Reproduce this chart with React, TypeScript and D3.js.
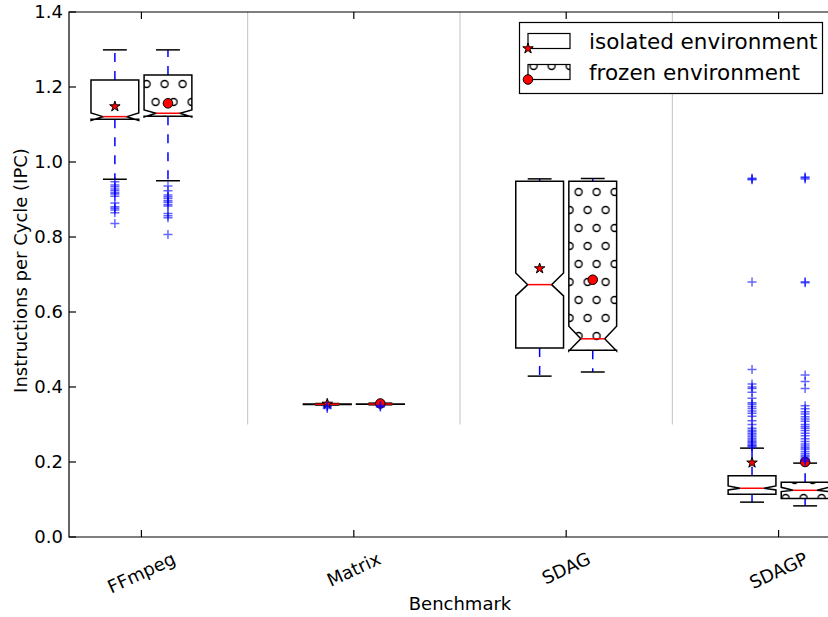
import { useEffect, useRef } from "react"
import * as d3 from "d3"

const benchmarks = ["FFmpeg", "Matrix", "SDAG", "SDAGP"]
const environments = ["isolated environment", "frozen environment"]
const yTicks = [0.0, 0.2, 0.4, 0.6, 0.8, 1.0, 1.2, 1.4]

// isolated environment, one value per benchmark
const isoWhiskerLo = [0.954, 0.352, 0.429, 0.093]
const isoQ1 = [1.114, 0.3535, 0.504, 0.114]
const isoNotchLo = [1.111, 0.3537, 0.643, 0.1255]
const isoMedian = [1.121, 0.354, 0.673, 0.13]
const isoNotchHi = [1.131, 0.3543, 0.704, 0.136]
const isoQ3 = [1.219, 0.3545, 0.949, 0.1635]
const isoWhiskerHi = [1.299, 0.356, 0.955, 0.237]
const isoMean = [1.148, 0.355, 0.716, 0.198]
const isoFliers = [
    [0.9475, 0.9387, 0.934, 0.928, 0.9235, 0.918, 0.915, 0.909, 0.891, 0.881, 0.8765, 0.872, 0.865, 0.836],
    [0.343, 0.347, 0.349],
    [],
    [0.953, 0.955, 0.957, 0.68, 0.447, 0.408, 0.4, 0.396, 0.386, 0.37, 0.358, 0.354, 0.348, 0.343, 0.336,
        0.33, 0.322, 0.31, 0.3, 0.29, 0.285, 0.281, 0.276, 0.272, 0.2675, 0.263, 0.259, 0.255, 0.252,
        0.248, 0.245, 0.243, 0.24],
]

// frozen environment
const frzWhiskerLo = [0.95, 0.3525, 0.44, 0.083]
const frzQ1 = [1.122, 0.354, 0.498, 0.103]
const frzNotchLo = [1.12, 0.3542, 0.496, 0.121]
const frzMedian = [1.13, 0.3545, 0.5285, 0.1245]
const frzNotchHi = [1.139, 0.3548, 0.562, 0.1325]
const frzQ3 = [1.232, 0.355, 0.949, 0.1458]
const frzWhiskerHi = [1.299, 0.357, 0.956, 0.197]
const frzMean = [1.1565, 0.356, 0.686, 0.2]
const frzFliers = [
    [0.936, 0.9235, 0.912, 0.9075, 0.903, 0.897, 0.8925, 0.887, 0.883, 0.863, 0.857, 0.8515, 0.807],
    [0.347, 0.349, 0.351],
    [],
    [0.955, 0.958, 0.96, 0.678, 0.681, 0.432, 0.415, 0.396, 0.35, 0.342, 0.334, 0.328, 0.321, 0.315,
        0.309, 0.3, 0.295, 0.29, 0.284, 0.277, 0.27, 0.262, 0.255, 0.248, 0.243, 0.238, 0.234, 0.228,
        0.223, 0.218, 0.214, 0.21, 0.206, 0.202],
]

const W = 828
const H = 617
const FONT = "DejaVu Sans, sans-serif"

export default function App() {
    const svgRef = useRef<SVGSVGElement>(null)

    useEffect(() => {
        if (!svgRef.current) return
        const svg = d3.select(svgRef.current)
        svg.selectAll("*").remove()

        const x = d3.scaleLinear().domain([-0.341, 3.341]).range([69, 851])
        const y = d3.scaleLinear().domain([0, 1.4]).range([537, 12])
        const unit = x(1) - x(0)
        const offset = unit / 8
        const boxW = unit * 0.225

        // 'o' hatch
        const defs = svg.append("defs")
        const pat = defs.append("pattern")
            .attr("id", "hatchO")
            .attr("patternUnits", "userSpaceOnUse")
            .attr("x", 578.6).attr("y", 192)
            .attr("width", 18).attr("height", 36)
        const hc: [number, number][] = [[0, 0], [18, 0], [0, 36], [18, 36], [9, 18]]
        pat.selectAll("circle").data(hc).enter().append("circle")
            .attr("cx", d => d[0]).attr("cy", d => d[1]).attr("r", 3.5)
            .attr("fill", "none").attr("stroke", "#000").attr("stroke-width", 1.4)

        // separators
        svg.append("g").selectAll("line").data([0.5, 1.5, 2.5]).enter().append("line")
            .attr("x1", d => x(d)).attr("x2", d => x(d))
            .attr("y1", y(1.4)).attr("y2", y(0.3))
            .attr("stroke", "#cccccc").attr("stroke-width", 1.2)

        const series = [
            { key: "iso", dx: -offset, wlo: isoWhiskerLo, q1: isoQ1, nlo: isoNotchLo, med: isoMedian, nhi: isoNotchHi, q3: isoQ3, whi: isoWhiskerHi, mean: isoMean, fliers: isoFliers },
            { key: "frz", dx: offset, wlo: frzWhiskerLo, q1: frzQ1, nlo: frzNotchLo, med: frzMedian, nhi: frzNotchHi, q3: frzQ3, whi: frzWhiskerHi, mean: frzMean, fliers: frzFliers },
        ]

        const star = d3.symbol().type(d3.symbolStar).size(34)
        const plot = svg.append("g")
        const meanLayer = svg.append("g")
        const flierLayer = svg.append("g")

        series.forEach(s => {
            benchmarks.forEach((b, i) => {
                const cx = x(i) + s.dx
                const l = cx - boxW / 2, r = cx + boxW / 2
                const il = cx - boxW / 4, ir = cx + boxW / 4
                const line = d3.line()
                const pts: [number, number][] = [
                    [l, y(s.q1[i])], [r, y(s.q1[i])], [r, y(s.nlo[i])], [ir, y(s.med[i])], [r, y(s.nhi[i])],
                    [r, y(s.q3[i])], [l, y(s.q3[i])], [l, y(s.nhi[i])], [il, y(s.med[i])], [l, y(s.nlo[i])],
                ]
                const d = line(pts) + "Z"
                // whiskers
                plot.append("line")
                    .attr("x1", cx).attr("x2", cx).attr("y1", y(s.q1[i])).attr("y2", y(s.wlo[i]))
                    .attr("stroke", "#0000ff").attr("stroke-width", 1.5).attr("stroke-dasharray", "9,9")
                plot.append("line")
                    .attr("x1", cx).attr("x2", cx).attr("y1", y(s.q3[i])).attr("y2", y(s.whi[i]))
                    .attr("stroke", "#0000ff").attr("stroke-width", 1.5).attr("stroke-dasharray", "9,9")
                // box
                plot.append("path").attr("d", d).attr("fill", "#fff")
                if (s.key === "frz") plot.append("path").attr("d", d).attr("fill", "url(#hatchO)")
                plot.append("path").attr("d", d).attr("fill", "none")
                    .attr("stroke", "#000").attr("stroke-width", 1.5).attr("stroke-linejoin", "miter")
                // caps
                ;[s.wlo[i], s.whi[i]].forEach(v => {
                    plot.append("line").attr("x1", il).attr("x2", ir).attr("y1", y(v)).attr("y2", y(v))
                        .attr("stroke", "#000").attr("stroke-width", 1.5)
                })
                // median
                plot.append("line").attr("x1", il).attr("x2", ir)
                    .attr("y1", y(s.med[i])).attr("y2", y(s.med[i]))
                    .attr("stroke", "#ff0000").attr("stroke-width", 1.5)
                // mean
                if (s.key === "iso") {
                    meanLayer.append("path").attr("d", star()!)
                        .attr("transform", `translate(${cx},${y(s.mean[i])})`)
                        .attr("fill", "#ff0000").attr("stroke", "#000").attr("stroke-width", 1)
                } else {
                    meanLayer.append("circle").attr("cx", cx).attr("cy", y(s.mean[i])).attr("r", 4.8)
                        .attr("fill", "#ff0000").attr("stroke", "#000").attr("stroke-width", 1)
                }
                // fliers
                s.fliers[i].forEach(v => {
                    flierLayer.append("path")
                        .attr("d", `M${cx - 4.5},${y(v)}H${cx + 4.5}M${cx},${y(v) - 4.5}V${y(v) + 4.5}`)
                        .attr("stroke", "#0000ff").attr("stroke-width", 1.5).attr("stroke-opacity", 0.6)
                        .attr("fill", "none")
                })
            })
        })

        // frame
        const frame = svg.append("g").attr("stroke", "#000").attr("stroke-width", 1.2).attr("fill", "none")
        frame.append("path").attr("d", `M${x(3.341)},${y(1.4)}H${x(-0.341)}V${y(0)}H${x(3.341)}`)

        // y ticks
        const yAxis = svg.append("g").attr("font-family", FONT).attr("font-size", 18)
        yTicks.forEach(t => {
            yAxis.append("line").attr("x1", x(-0.341)).attr("x2", x(-0.341) + 7)
                .attr("y1", y(t)).attr("y2", y(t)).attr("stroke", "#000").attr("stroke-width", 1.2)
            yAxis.append("text").attr("x", 63).attr("y", y(t)).attr("dy", "0.36em")
                .attr("text-anchor", "end").attr("fill", "#000").text(d3.format(".1f")(t))
        })

        // x ticks
        const xAxis = svg.append("g").attr("font-family", FONT).attr("font-size", 18)
        benchmarks.forEach((b, i) => {
            xAxis.append("line").attr("x1", x(i)).attr("x2", x(i)).attr("y1", y(0)).attr("y2", y(0) - 7)
                .attr("stroke", "#000").attr("stroke-width", 1.2)
            xAxis.append("line").attr("x1", x(i)).attr("x2", x(i)).attr("y1", y(1.4)).attr("y2", y(1.4) + 7)
                .attr("stroke", "#000").attr("stroke-width", 1.2)
            const t = xAxis.append("text").attr("text-anchor", "middle").attr("fill", "#000").text(b)
            const w = (t.node() as SVGTextElement).getComputedTextLength()
            const a = 25 * Math.PI / 180
            const hh = 18 * 1.16
            const bh = w * Math.sin(a) + hh * Math.cos(a)
            const cy = y(0) + 11 + bh / 2
            t.attr("x", x(i)).attr("y", cy).attr("dy", "0.35em")
                .attr("transform", `rotate(-25,${x(i)},${cy})`)
        })

        svg.append("text").attr("x", (x(-0.341) + x(3.341)) / 2).attr("y", 610)
            .attr("text-anchor", "middle").attr("font-family", FONT).attr("font-size", 18)
            .text("Benchmark")
        svg.append("text").attr("transform", `translate(27,${(y(0) + y(1.4)) / 2 - 4}) rotate(-90)`)
            .attr("text-anchor", "middle").attr("font-family", FONT).attr("font-size", 18)
            .text("Instructions per Cycle (IPC)")

        // legend
        const lg = svg.append("g").attr("font-family", FONT).attr("font-size", 21.5)
        lg.append("rect").attr("x", 519.5).attr("y", 22.5).attr("width", 303).attr("height", 71)
            .attr("fill", "#fff").attr("stroke", "#000").attr("stroke-width", 1.2)
        environments.forEach((e, k) => {
            const top = 33.5 + k * 31
            lg.append("rect").attr("x", 528).attr("y", top).attr("width", 42).attr("height", 15)
                .attr("fill", k === 1 ? "url(#hatchO)" : "#fff").attr("stroke", "#000").attr("stroke-width", 1.2)
            if (k === 0) {
                lg.append("path").attr("d", star()!).attr("transform", `translate(528,${top + 15})`)
                    .attr("fill", "#ff0000").attr("stroke", "#000").attr("stroke-width", 1)
            } else {
                lg.append("circle").attr("cx", 528).attr("cy", top + 15).attr("r", 4.8)
                    .attr("fill", "#ff0000").attr("stroke", "#000").attr("stroke-width", 1)
            }
            lg.append("text").attr("x", 589).attr("y", top + 15).attr("fill", "#000").text(e)
        })
    }, [])

    return (
        <div style={{ position: "absolute", left: 0, top: 0, width: W, height: H, background: "#fff" }}>
            <svg ref={svgRef} width={W} height={H} viewBox={`0 0 ${W} ${H}`} />
        </div>
    )
}
